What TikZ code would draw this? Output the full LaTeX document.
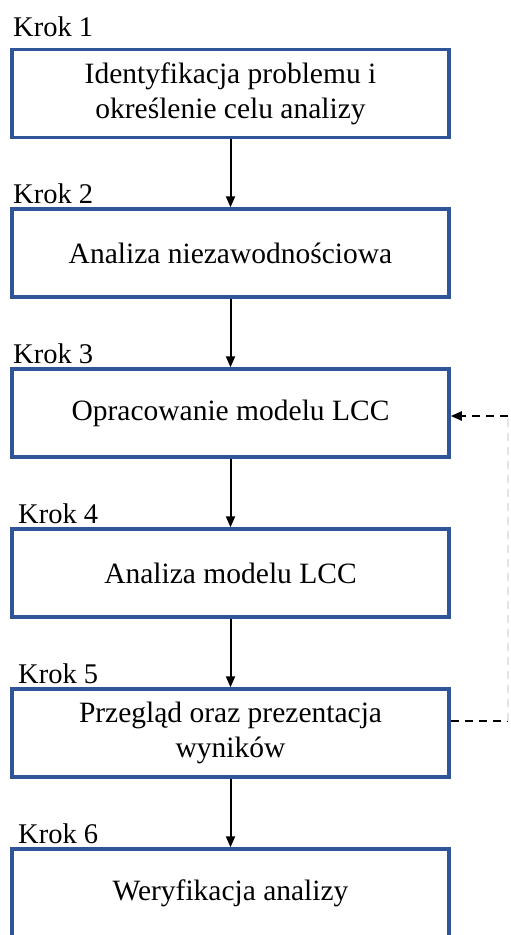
\documentclass[tikz,border=0pt]{standalone}
\usepackage{fontspec}
\setmainfont{Liberation Serif}
\usetikzlibrary{arrows.meta}
\definecolor{boxblue}{RGB}{47,85,151}
\tikzset{
  krokbox/.style = {
    draw=boxblue, line width=3.5pt, rectangle, inner sep=0pt,
    minimum width=437pt, minimum height=88pt, align=center,
    font=\fontsize{29.5}{35}\selectfont
  },
  kroklabel/.style = {
    anchor=base west, inner sep=0pt,
    font=\fontsize{28.5}{35}\selectfont
  },
  flow/.style = {line width=2pt, -{Triangle[length=11pt,width=9pt]}},
  feedback/.style = {line width=2.2pt, dash pattern=on 8pt off 6pt}
}

\begin{document}
\begin{tikzpicture}[x=1pt,y=-1pt]
  \useasboundingbox (0,0) rectangle (511,935);
  \pgfmathsetmacro{\Mitte}{230.5};
  \pgfmathsetmacro{\Rueck}{508};
  %
  % steps
  \node[krokbox] (box1) at (\Mitte,93.5) {Identyfikacja problemu i\\określenie celu analizy};
  \node[krokbox] (box2) at (\Mitte,253) {Analiza niezawodnościowa};
  \node[krokbox] (box3) at (\Mitte,413) {Opracowanie modelu LCC};
  \node[krokbox] (box4) at (\Mitte,573) {Analiza modelu LCC};
  \node[krokbox] (box5) at (\Mitte,733) {Przegląd oraz prezentacja\\wyników};
  \node[krokbox] (box6) at (\Mitte,893) {Weryfikacja analizy};
  % labels
  \node[kroklabel] (krok1) at (13,36) {Krok 1};
  \node[kroklabel] (krok2) at (13,203) {Krok 2};
  \node[kroklabel] (krok3) at (13,363) {Krok 3};
  \node[kroklabel] (krok4) at (18,523) {Krok 4};
  \node[kroklabel] (krok5) at (18,683) {Krok 5};
  \node[kroklabel] (krok6) at (18,843) {Krok 6};
  % flow
  \draw[flow] (box1) -- (box2);
  \draw[flow] (box2) -- (box3);
  \draw[flow] (box3) -- (box4);
  \draw[flow] (box4) -- (box5);
  \draw[flow] (box5) -- (box6);
  % feedback
  \coordinate (fbunten) at (\Rueck,721);
  \coordinate (fboben) at (\Rueck,416);
  \draw[feedback] (box5.east |- fbunten) -- (fbunten);
  \draw[feedback,black!10] (fbunten) -- (fboben);
  \draw[feedback,-{Triangle[length=11pt,width=9pt]}] (fboben) -- (box3.east |- fboben);
\end{tikzpicture}
\end{document}
